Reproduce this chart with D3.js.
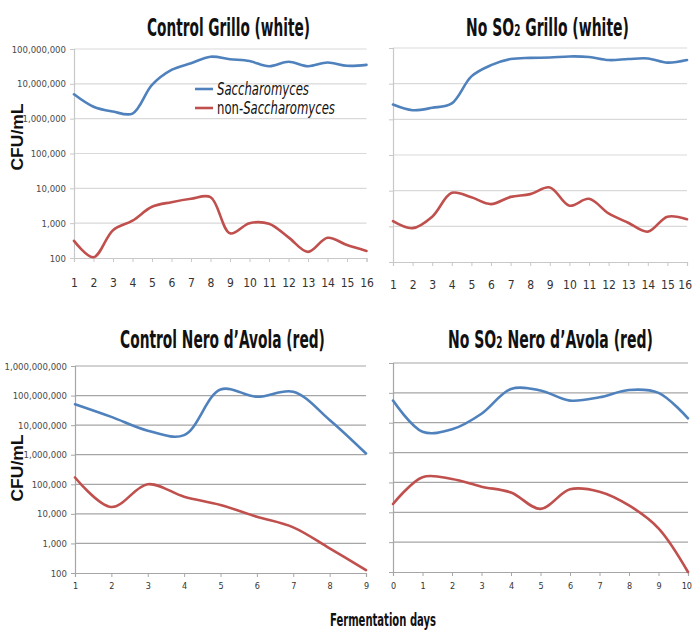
<!DOCTYPE html>
<html><head><meta charset="utf-8">
<script src="https://cdn.jsdelivr.net/npm/d3@7"></script>
<style>
html,body{margin:0;padding:0;background:#fff;}
svg{display:block;}
</style></head>
<body>
<svg id="chart" width="692" height="630"></svg>
<script>
// ---------- DATA ----------
const grilloDays = [1,2,3,4,5,6,7,8,9,10,11,12,13,14,15,16];
const controlNeroDays = [1,2,3,4,5,6,7,8,9];
const noSO2NeroDays = [0,1,2,3,4,5,6,7,8,9,10];

const controlGrilloSacch = [5.0e6, 2.2e6, 1.6e6, 1.4e6, 9.3e6, 2.5e7, 3.9e7, 6.0e7, 5.1e7, 4.5e7, 3.2e7, 4.3e7, 3.2e7, 4.1e7, 3.3e7, 3.5e7];
const controlGrilloNon   = [310, 105, 630, 1180, 2950, 4000, 5000, 5600, 510, 1000, 960, 390, 150, 380, 235, 160];

const noSO2GrilloSacch = [2.6e6, 1.8e6, 2.1e6, 2.8e6, 1.6e7, 3.3e7, 4.9e7, 5.3e7, 5.4e7, 5.8e7, 5.6e7, 4.6e7, 4.9e7, 5.1e7, 3.9e7, 4.6e7];
const noSO2GrilloNon   = [1400, 890, 1870, 8700, 6500, 4200, 6700, 8000, 12300, 3800, 5900, 2300, 1260, 710, 1870, 1580];

const controlNeroSacch = [5.1e7, 1.9e7, 6.5e6, 4.6e6, 1.6e8, 9.1e7, 1.35e8, 1.5e7, 1.1e6];
const controlNeroNon   = [1.7e5, 1.7e4, 1.0e5, 3.8e4, 2.0e4, 8000, 3500, 680, 125];

const noSO2NeroSacch = [5.5e7, 5.0e6, 6.0e6, 2.0e7, 1.35e8, 1.2e8, 5.5e7, 7.1e7, 1.25e8, 1.0e8, 1.4e7];
const noSO2NeroNon   = [1.9e4, 1.5e5, 1.3e5, 7.2e4, 4.6e4, 1.3e4, 5.9e4, 4.9e4, 1.7e4, 2900, 100];

const yTicksGrillo = [100, 1000, 10000, 100000, 1000000, 10000000, 100000000];
const yTicksNero = [100, 1000, 10000, 100000, 1000000, 10000000, 100000000, 1000000000];

const seriesNames = ["Saccharomyces", "non-Saccharomyces"];
const seriesColors = ["#4f81bd", "#c0504d"];

// ---------- DRAW ----------
const svg = d3.select("#chart");
const narrow = "'Liberation Sans Narrow','Arial Narrow','DejaVu Sans Condensed',sans-serif";
const fmt = d3.format(",");

const panels = [
  {title:["Control Grillo (white)"], titleW:163, tx:228.5, ty:36, days:grilloDays, sacch:controlGrilloSacch, non:controlGrilloNon,
   x0:74, x1:366.5, yTop:49, yBot:258, ticks:yTicksGrillo, showY:true, grid:"#d9d9d9", axis:"#c8c8c8", xfs:12, xly:287},
  {title:["No SO","2"," Grillo (white)"], titleW:163, tx:547.5, ty:36, days:grilloDays, sacch:noSO2GrilloSacch, non:noSO2GrilloNon,
   x0:393, x1:687, yTop:48, yBot:262, ticks:yTicksGrillo, showY:false, grid:"#d9d9d9", axis:"#c8c8c8", xfs:12, xly:289},
  {title:["Control Nero d\u2019Avola (red)"], titleW:205, tx:222.5, ty:348, days:controlNeroDays, sacch:controlNeroSacch, non:controlNeroNon,
   x0:75, x1:366, yTop:366, yBot:573, ticks:yTicksNero, showY:true, grid:"#a6a6a6", axis:"#a6a6a6", xfs:9, xly:589},
  {title:["No SO","2"," Nero d\u2019Avola (red)"], titleW:205, tx:550.5, ty:348, days:noSO2NeroDays, sacch:noSO2NeroSacch, non:noSO2NeroNon,
   x0:393, x1:688, yTop:363, yBot:572, ticks:yTicksNero, showY:false, grid:"#a6a6a6", axis:"#a6a6a6", xfs:9, xly:589}
];

// fit a text element horizontally to a target width around an anchor x
function fitWidth(sel, cx, w) {
  const nat = sel.node().getComputedTextLength();
  const s = nat > 0 ? w / nat : 1;
  sel.attr("transform", `translate(${cx},0) scale(${s},1) translate(${-cx},0)`);
}

panels.forEach(p => {
  const x = d3.scaleLinear().domain(d3.extent(p.days)).range([p.x0, p.x1]);
  const y = d3.scaleLog().domain(d3.extent(p.ticks)).range([p.yBot, p.yTop]);
  const g = svg.append("g");

  // gridlines
  g.append("g").selectAll("line").data(p.ticks.slice(1)).join("line")
    .attr("x1", p.x0).attr("x2", p.x1)
    .attr("y1", d => y(d)).attr("y2", d => y(d))
    .attr("stroke", p.grid).attr("stroke-width", 1.2);

  // y axis
  const yAxis = d3.axisLeft(y).tickValues(p.ticks).tickSize(4)
    .tickFormat(d => p.showY ? fmt(d) : "");
  const ya = g.append("g").attr("transform", `translate(${p.x0},0)`).call(yAxis);
  ya.select(".domain").attr("stroke", p.axis).attr("stroke-width", 1.2);
  ya.selectAll(".tick line").attr("stroke", p.axis);
  ya.selectAll(".tick text").attr("font-family", narrow).attr("font-size", 9.5)
    .attr("fill", "#4a4a4a").attr("x", -8);

  // x axis
  const xAxis = d3.axisBottom(x).tickValues(p.days).tickSize(4).tickFormat(d => d);
  const xa = g.append("g").attr("transform", `translate(0,${p.yBot})`).call(xAxis);
  xa.select(".domain").attr("stroke", p.axis).attr("stroke-width", 1.2);
  xa.selectAll(".tick line").attr("stroke", p.axis);
  xa.selectAll(".tick text").attr("font-family", narrow).attr("font-size", p.xfs)
    .attr("fill", "#333").attr("y", p.xly - p.yBot).attr("dy", 0);
  // keep the last label inside the page
  const lastDay = p.days[p.days.length - 1];
  xa.selectAll(".tick").filter(d => d === lastDay && x(d) > 680)
    .select("text").attr("text-anchor", "end").attr("x", 692 - x(lastDay) - 0.5);

  // lines
  const line = d3.line().x(d => x(d[0])).y(d => y(d[1])).curve(d3.curveCatmullRom.alpha(0.5));
  [p.sacch, p.non].forEach((vals, i) => {
    g.append("path").datum(p.days.map((d, j) => [d, vals[j]]))
      .attr("d", line).attr("fill", "none")
      .attr("stroke", seriesColors[i]).attr("stroke-width", 2.6)
      .attr("stroke-linejoin", "round").attr("stroke-linecap", "round");
  });

  // title
  const t = g.append("text").attr("x", p.tx).attr("y", p.ty).attr("text-anchor", "middle")
    .attr("font-family", narrow).attr("font-weight", "bold").attr("font-size", 25)
    .attr("fill", "#111");
  if (p.title.length === 1) {
    t.text(p.title[0]);
  } else {
    t.append("tspan").text(p.title[0]);
    t.append("tspan").attr("font-size", 16).text(p.title[1]);
    t.append("tspan").text(p.title[2]);
  }
  fitWidth(t, p.tx, p.titleW);
});

// y axis titles
[137, 468].forEach(cy => {
  svg.append("text").attr("transform", `translate(23,${cy}) rotate(-90)`)
    .attr("text-anchor", "middle").attr("font-family", "'Liberation Sans',Arial,sans-serif")
    .attr("font-weight", "bold").attr("font-size", 17).attr("fill", "#111")
    .attr("textLength", 67).attr("lengthAdjust", "spacingAndGlyphs").text("CFU/mL");
});

// x axis title
svg.append("text").attr("x", 383).attr("y", 626).attr("text-anchor", "middle")
  .attr("font-family", narrow).attr("font-weight", "bold").attr("font-size", 17)
  .attr("fill", "#111").attr("textLength", 106).attr("lengthAdjust", "spacingAndGlyphs")
  .text("Fermentation days");

// legend
const leg = svg.append("g");
const legY = [89, 108];
seriesNames.forEach((name, i) => {
  leg.append("line").attr("x1", 195).attr("x2", 213).attr("y1", legY[i]).attr("y2", legY[i])
    .attr("stroke", seriesColors[i]).attr("stroke-width", 2.6);
  const tt = leg.append("text").attr("x", 217).attr("y", legY[i] + 6)
    .attr("font-family", narrow).attr("font-size", 17).attr("fill", "#111");
  if (name.startsWith("non-")) {
    tt.append("tspan").text("non-");
    tt.append("tspan").attr("font-style", "italic").text(name.slice(4));
    fitWidth(tt, 217, 118);
  } else {
    tt.append("tspan").attr("font-style", "italic").text(name);
    fitWidth(tt, 217, 92);
  }
});
</script>
</body></html>
